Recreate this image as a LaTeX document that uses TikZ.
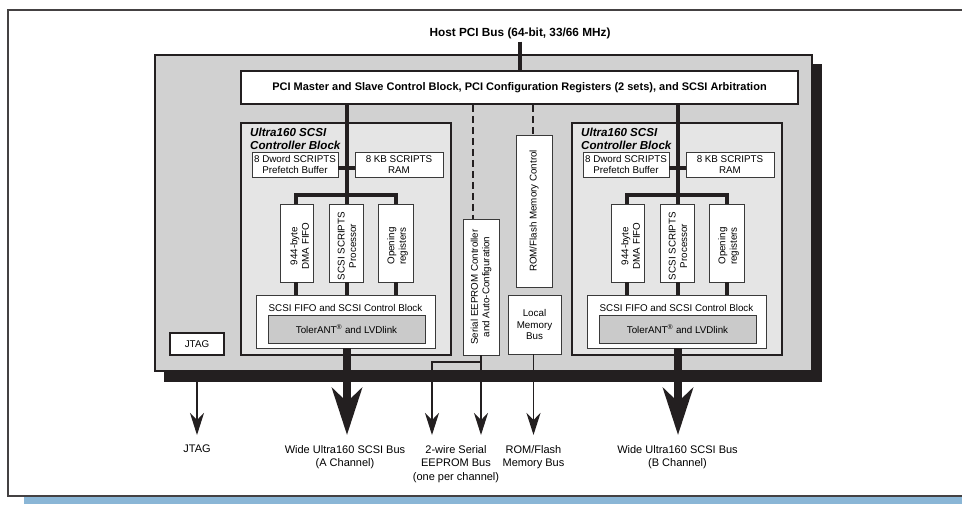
\documentclass[tikz,border=0pt]{standalone}
\usepackage{fontspec}
\setmainfont{Liberation Sans}
\usetikzlibrary{arrows.meta}
\definecolor{chipgray}{HTML}{D1D1D1}
\definecolor{blockgray}{HTML}{E5E5E5}
\definecolor{tolgray}{HTML}{CACACA}
\definecolor{shadowc}{HTML}{231F20}
\definecolor{barblue}{HTML}{8AB6D6}
\definecolor{boxline}{HTML}{3A3A3A}
\newcommand\fsin{\fontsize{9.8}{11.5}\selectfont}
\newcommand\fslab{\fontsize{11}{13.5}\selectfont}
\newcommand\fsbold{\fontsize{11}{12.8}\selectfont\bfseries}
\newcommand\fshost{\fontsize{11.8}{13}\selectfont\bfseries}
\newcommand\fstitle{\fontsize{11.6}{12.8}\selectfont\bfseries\itshape}
\begin{document}
\begin{tikzpicture}[x=1pt,y=-1pt,
  box/.style={draw=boxline, line width=0.9pt, fill=white, inner sep=0pt, align=center, font=\fsin},
  ctrl/.style={draw=shadowc, line width=1.6pt, fill=blockgray, inner sep=0pt},
  bus/.style={line width=3.2pt, shadowc, line join=miter},
  bigarrow/.style={line width=8pt, shadowc, -{Stealth[length=47pt,width=30pt,inset=14pt]}},
  thinarrow/.style={line width=1.2pt, shadowc, -{Stealth[length=22pt,width=14pt,inset=7pt]}},
  dashline/.style={line width=1.2pt, shadowc, dash pattern=on 7pt off 4pt},
  lab/.style={inner sep=0pt, align=center, font=\fslab, anchor=north},
  rottext/.style={inner sep=0pt, align=center, font=\fsin, rotate=90}
]
\useasboundingbox (0,0) rectangle (962,504);
% frame and bar
\fill[barblue] (24,497) rectangle (962,504);
\draw[line width=1.3pt, shadowc!85] (962,10) -- (8,10) -- (8,496) -- (962,496);
% chip with shadow
\fill[shadowc] (164,64) rectangle (822,382);
\node[draw=shadowc, line width=1.1pt, fill=chipgray, minimum width=657pt, minimum height=316pt, inner sep=0pt] (chip) at (483.5,213) {};
% host bus
\node[inner sep=0pt, font=\fshost] (host) at (520,33) {Host PCI Bus (64-bit, 33/66 MHz)};
\node[draw=shadowc, line width=1.6pt, fill=white, minimum width=557pt, minimum height=33pt, inner sep=0pt, font=\fsbold] (pci) at (519.5,87.5) {PCI Master and Slave Control Block, PCI Configuration Registers (2 sets), and SCSI Arbitration};
\draw[bus] (host.south -| 520,0) ++(0,3) -- (pci.north -| 520,0);
% controller blocks
\foreach \o/\n in {0/A,331/B}{
  \node[ctrl, minimum width=210pt, minimum height=232pt] (ctrl\n) at (346+\o,239) {};
  \node[inner sep=0pt, anchor=north west, align=left, font=\fstitle] (title\n) at (250+\o,128) {Ultra160 SCSI\\Controller Block};
  \node[box, minimum width=86pt, minimum height=25pt] (pf\n) at (295+\o,164.5) {8 Dword SCRIPTS\\Prefetch Buffer};
  \node[box, minimum width=88pt, minimum height=25pt] (ram\n) at (399+\o,164.5) {8 KB SCRIPTS\\RAM};
  \node[box, minimum width=33pt, minimum height=78pt] (dma\n) at (296.5+\o,243) {};
  \node[rottext, xshift=-3pt, yshift=-3pt] at (dma\n) {944-byte\\DMA FIFO};
  \node[box, minimum width=34pt, minimum height=78pt] (proc\n) at (346+\o,243) {};
  \node[rottext, xshift=-3pt, yshift=-1pt] at (proc\n) {SCSI SCRIPTS\\Processor};
  \node[box, minimum width=35pt, minimum height=78pt] (opn\n) at (395.5+\o,243) {};
  \node[rottext, xshift=-3pt, yshift=-2pt] at (opn\n) {Opening\\registers};
  \node[box, minimum width=179pt, minimum height=53pt] (fifo\n) at (345.5+\o,321.5) {};
  \node[inner sep=0pt, font=\fsin] (fifot\n) at (345.5+\o,307.5) {SCSI FIFO and SCSI Control Block};
  \node[box, fill=tolgray, minimum width=157pt, minimum height=28pt] (tol\n) at (346.5+\o,329) {TolerANT\textsuperscript{®} and LVDlink};
  \coordinate (bus\n) at (347+\o,195);
  \coordinate (end\n) at (347+\o,435);
  \draw[bus] (pci.south -| bus\n) -- (bus\n);
  \draw[bus] (dma\n.north -| 296+\o,0) -- (bus\n -| 296+\o,0) -- (bus\n -| 396+\o,0) -- (opn\n.north -| 396+\o,0);
  \draw[bus] (bus\n) -- (proc\n.north -| bus\n);
  \draw[line width=4.2pt, shadowc] (pf\n.east |- 0,168) -- (ram\n.west |- 0,168);
  \draw[bus] (dma\n.south -| 296+\o,0) -- (fifo\n.north -| 296+\o,0);
  \draw[bus] (proc\n.south -| bus\n) -- (fifo\n.north -| bus\n);
  \draw[bus] (opn\n.south -| 396+\o,0) -- (fifo\n.north -| 396+\o,0);
  \draw[bigarrow] (fifo\n.south -| bus\n) -- (end\n);
}
% middle column
\node[box, minimum width=36pt, minimum height=136pt] (eeprom) at (481,287) {};
\node[rottext] at (eeprom) {Serial EEPROM Controller\\and Auto-Configuration};
\node[box, minimum width=36pt, minimum height=152pt] (romc) at (534,211) {};
\node[rottext] at (romc) {ROM/Flash Memory Control};
\node[box, minimum width=53pt, minimum height=59pt] (local) at (534.5,324.5) {Local\\Memory\\Bus};
\draw[dashline] (pci.south -| 473,0) -- (eeprom.north -| 473,0);
\draw[dashline] (pci.south -| 533,0) -- (romc.north -| 533,0);
% JTAG
\node[draw=shadowc, line width=1.9pt, fill=white, minimum width=54pt, minimum height=22pt, inner sep=0pt, font=\fsin] (jtag) at (197,344) {JTAG};
% arrows out
\coordinate (jtagend) at (197,435);
\coordinate (eejoin) at (481,362);
\coordinate (ee1) at (481,435);
\coordinate (ee2) at (432,435);
\coordinate (romend) at (533.5,435);
\draw[thinarrow] (chip.south -| jtagend) -- (jtagend);
\draw[thinarrow] (eeprom.south) -- (ee1);
\draw[thinarrow] (eejoin) -| (ee2);
\draw[thinarrow] (local.south -| romend) -- (romend);
% labels
\node[lab] (ljtag) at (197,445) {JTAG};
\node[lab] (la) at (345,445) {Wide Ultra160 SCSI Bus\\(A Channel)};
\node[lab] (lee) at (456,445) {2-wire Serial\\EEPROM Bus\\(one per channel)};
\node[lab] (lrom) at (533.5,445) {ROM/Flash\\Memory Bus};
\node[lab] (lb) at (677.5,445) {Wide Ultra160 SCSI Bus\\(B Channel)};
\end{tikzpicture}
\end{document}
